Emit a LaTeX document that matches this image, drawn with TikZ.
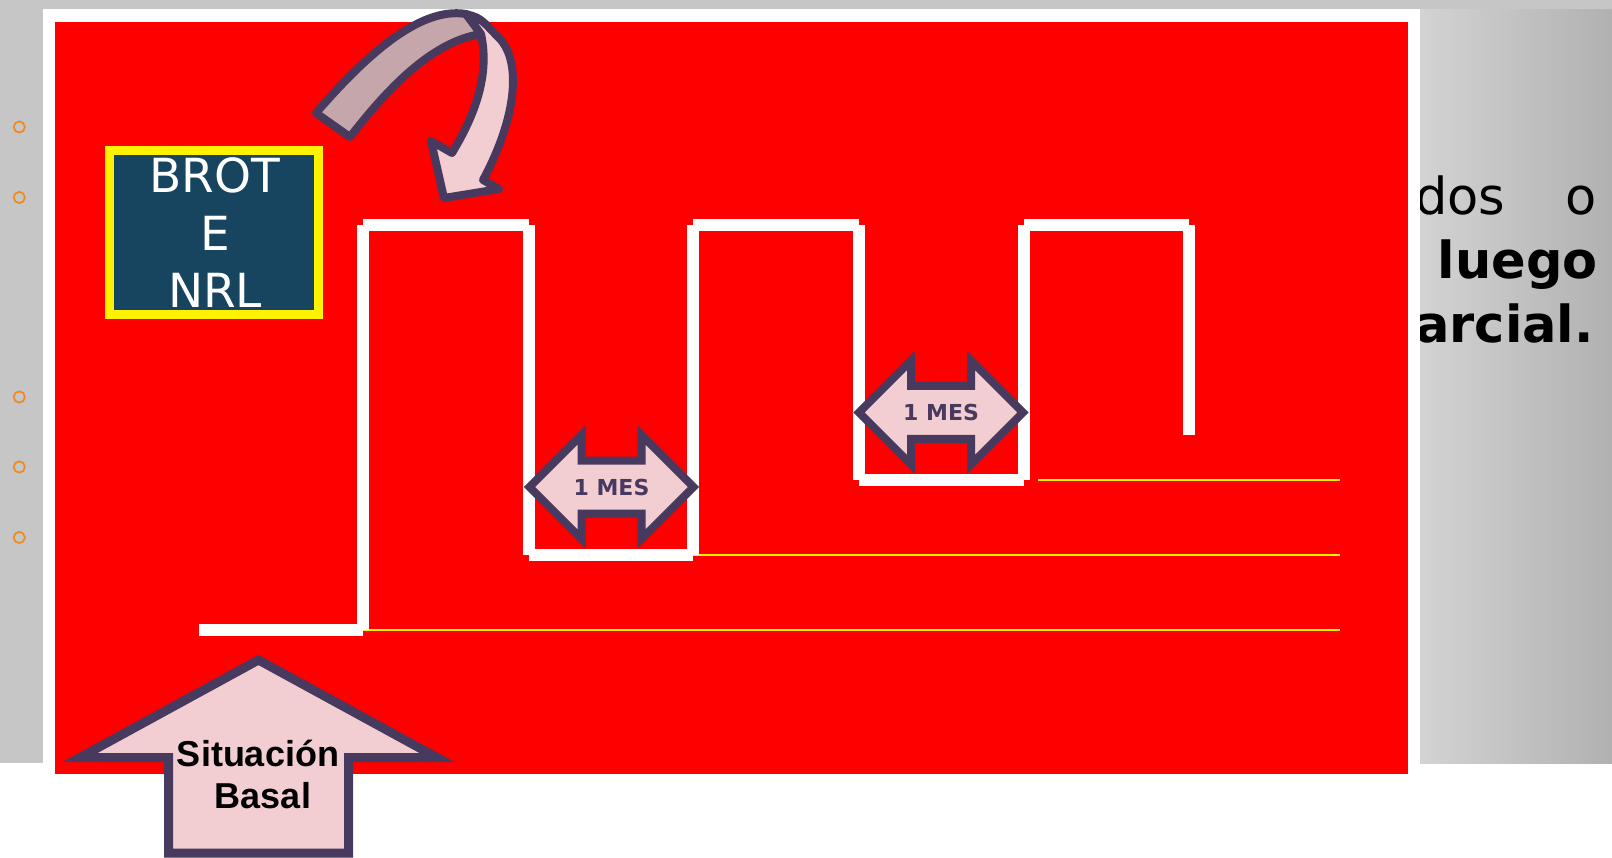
\documentclass[tikz,border=0pt]{standalone}
\usepackage{fontspec}
\setmainfont{DejaVu Sans}
\newfontfamily\arialf{Liberation Sans}
\definecolor{bred}{HTML}{FF0000}
\definecolor{bpurple}{HTML}{483A5E}
\definecolor{bpink}{HTML}{F2CDD2}
\definecolor{bmauve}{HTML}{C4A6AB}
\definecolor{bblue}{HTML}{17445F}
\definecolor{borange}{HTML}{F0891E}
\definecolor{bgray}{HTML}{C6C6C6}
\definecolor{bgrayl}{HTML}{D3D3D3}
\definecolor{bgrayd}{HTML}{B1B1B1}
\begin{document}
\begin{tikzpicture}[x=1pt,y=-1pt,
  stepline/.style={draw=white, line width=12pt, line cap=butt},
  levelline/.style={draw=yellow, line width=2pt},
  dblarrow/.style={draw=bpurple, fill=bpink, line width=8pt, line join=miter},
  meslabel/.style={anchor=base, inner sep=0pt, text=bpurple, font=\bfseries\fontsize{22}{26}\selectfont},
  bigtext/.style={inner sep=0pt, text=black, font=\fontsize{51}{60}\selectfont},
  brottext/.style={anchor=base, inner sep=0pt, text=white, font=\fontsize{47}{56}\selectfont},
  bulletring/.style={draw=borange, line width=1.7pt},
  curvepart/.style={draw=bpurple, line width=8pt, line join=round},
  upshape/.style={draw=bpurple, fill=bpink, line width=9pt, line join=miter},
  basaltext/.style={anchor=base, inner sep=0pt, text=black, font=\arialf\bfseries\fontsize{36}{42}\selectfont}]
\useasboundingbox (0,0) rectangle (1612,858);
% page and grey slide background
\fill[white] (0,0) rectangle (1612,858);
\fill[bgray] (0,0) rectangle (1612,763);
\shade[left color=bgrayl, right color=bgrayd] (1420,9.5) rectangle (1612,763);
% bullets
\foreach \yy/\nm in {127/b1,197.5/b2,397/b3,467/b4,537.5/b5}
  \draw[bulletring] (19.3,\yy) circle (5.6pt) coordinate (\nm);
% text partly hidden by the frame
\node[bigtext, anchor=base west] (tdos) at (1415,215) {dos};
\node[bigtext, anchor=base east] (to) at (1597,215) {o};
\node[bigtext, anchor=base east, font=\bfseries\fontsize{51}{60}\selectfont] (tluego) at (1598,279) {luego};
\node[bigtext, anchor=base east, font=\bfseries\fontsize{51}{60}\selectfont] (tarcial) at (1594,343) {arcial.};
% frame and red panel
\fill[white] (43,9.5) rectangle (1420,786);
\fill[bred] (55,22) rectangle (1408,774);
% level lines
\coordinate (y1a) at (363,630);  \coordinate (y1b) at (1340,630);
\coordinate (y2a) at (693,555);  \coordinate (y2b) at (1340,555);
\coordinate (y3a) at (1038,480); \coordinate (y3b) at (1340,480);
\draw[levelline] (y1a) -- (y1b);
\draw[levelline] (y2a) -- (y2b);
\draw[levelline] (y3a) -- (y3b);
% step line
\coordinate (s0) at (199,630);
\coordinate (s1) at (363,630);
\coordinate (s2) at (363,225);
\coordinate (s3) at (529,225);
\coordinate (s4) at (529,555);
\coordinate (s5) at (693,555);
\coordinate (s6) at (693,225);
\coordinate (s7) at (859,225);
\coordinate (s8) at (859,480);
\coordinate (s9) at (1024,480);
\coordinate (s10) at (1024,225);
\coordinate (s11) at (1189,225);
\coordinate (s12) at (1189,435);
\draw[stepline] (s0) -- (s1);
\draw[stepline] (s1) -- (s2);
\draw[stepline] (s2) -- (s3);
\draw[stepline] (s3) -- (s4);
\draw[stepline] (s4) -- (s5);
\draw[stepline] (s5) -- (s6);
\draw[stepline] (s6) -- (s7);
\draw[stepline] (s7) -- (s8);
\draw[stepline] (s8) -- (s9);
\draw[stepline] (s9) -- (s10);
\draw[stepline] (s10) -- (s11);
\draw[stepline] (s11) -- (s12);
% BROT box
\node[draw=yellow, fill=bblue, line width=9pt, minimum width=209.5pt, minimum height=164.5pt, inner sep=0pt] (brot) at (213.75,232.75) {};
\node[brottext] (brot1) at (215,193) {BROT};
\node[brottext] (brot2) at (215,251) {E};
\node[brottext] (brot3) at (215,308) {NRL};
% curved arrow
\filldraw[curvepart, fill=bmauve] (316,113) .. controls (362,60) and (418,6) .. (466,14) -- (481,34) .. controls (430,42) and (385,92) .. (350,137) -- cycle;
\filldraw[curvepart, fill=bpink] (466,14) .. controls (480,18) .. (497,36) .. controls (522,58) and (518,115) .. (483,180) -- (499,189) -- (444,198) -- (431,141) -- (452,153) .. controls (475,115) and (490,75) .. (481,34) -- cycle;
% double arrows
\begin{scope}[shift={(611.5,487)}]
\filldraw[dblarrow] (-82,0) -- (-30,-52) -- (-30,-26.5) -- (30,-26.5) -- (30,-52) -- (82,0) -- (30,52) -- (30,26.5) -- (-30,26.5) -- (-30,52) -- cycle;
\node[meslabel] (mes1) at (0,8) {1 MES};
\end{scope}
\begin{scope}[shift={(941,412.5)}]
\filldraw[dblarrow] (-82,0) -- (-30,-52) -- (-30,-26.5) -- (30,-26.5) -- (30,-52) -- (82,0) -- (30,52) -- (30,26.5) -- (-30,26.5) -- (-30,52) -- cycle;
\node[meslabel] (mes2) at (0,8) {1 MES};
\end{scope}
% up arrow
\filldraw[upshape] (258.5,660) -- (437,757.5) -- (348.5,757.5) -- (348.5,853) -- (168.5,853) -- (168.5,757.5) -- (80,757.5) -- cycle;
\node[basaltext] (sit) at (258,766) {Situación};
\node[basaltext] (bas) at (263,808) {Basal};
\end{tikzpicture}
\end{document}
